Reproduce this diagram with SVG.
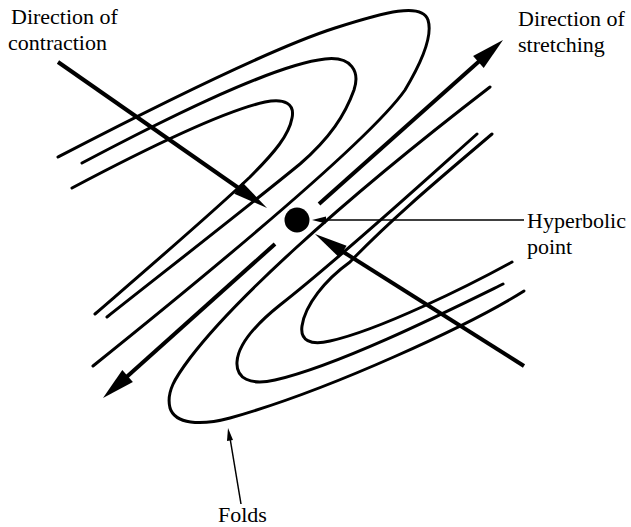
<svg xmlns="http://www.w3.org/2000/svg" width="631" height="527" viewBox="0 0 631 527">
<style>
.fold{fill:none;stroke:#000;stroke-width:3;stroke-linecap:round;stroke-linejoin:round}
.shaft{fill:none;stroke:#000;stroke-width:4;stroke-linecap:butt}
.lead{fill:none;stroke:#000;stroke-width:1.5}
.head{fill:#000;stroke:none}
text{font-family:"Liberation Serif","Times New Roman",serif;font-size:22px;fill:#000}
</style>
<rect width="631" height="527" fill="#fff"/>
<g id="folds-upper">
<path class="fold" d="M58,157 C110,130 260,52 335,28 C385,12 422,2 428,20 C433,36 420,65 405,90 C370,140 200,280 93,366"/>
<path class="fold" d="M82,163 C150,127 270,65 325,59 C352,56 360,72 354,90 C345,115 330,138 300,164 C250,205 160,275 107,317"/>
<path class="fold" d="M72,188 C140,152 220,112 265,102 C285,98 295,104 292,118 C289,135 275,152 250,177 C210,215 140,275 95,314"/>
</g>
<g id="folds-lower">
<path class="fold" d="M524,291 C470,325 330,390 230,418 C200,426 175,424 170,408 C166,392 175,378 190,358 C230,305 330,210 490,87"/>
<path class="fold" d="M503,284 C450,310 340,365 275,380 C250,386 236,378 237,362 C238,345 255,325 280,305 C340,258 420,185 477,134"/>
<path class="fold" d="M512,262 C470,285 380,330 330,341 C310,346 300,340 302,326 C305,305 325,280 350,262 C395,215 450,170 492,134"/>
</g>
<g id="hyperbolic-point">
<circle cx="297" cy="220" r="12.5" fill="#000"/>
</g>
<g id="connectors">
<line class="shaft" x1="58" y1="62" x2="240" y2="189"/>
<polygon class="head" points="267,208 234.3,193.7 242.3,182.3"/>
<line class="shaft" x1="524" y1="366" x2="341" y2="250.5"/>
<polygon class="head" points="315,234 346.6,245.7 339.2,257.5"/>
<line class="shaft" x1="126" y1="377.5" x2="275" y2="244"/>
<line class="shaft" x1="319" y1="204" x2="480" y2="60.5"/>
<polygon class="head" points="503,40 483.7,68 473.1,56"/>
<polygon class="head" points="103,398 132.9,382 122.3,370"/>
<line class="lead" x1="324" y1="220" x2="524" y2="220"/>
<polygon class="head" points="312,220 326,216.5 326,223.5"/>
<line class="lead" x1="241" y1="504" x2="230" y2="438"/>
<polygon class="head" points="228,428 233,440 227,441"/>
</g>
<g id="labels">
<text x="11" y="24">Direction of</text>
<text x="8" y="50">contraction</text>
<text x="518" y="26">Direction of</text>
<text x="518" y="52">stretching</text>
<text x="527" y="228">Hyperbolic</text>
<text x="527" y="254">point</text>
<text x="218" y="522">Folds</text>
</g>
</svg>
